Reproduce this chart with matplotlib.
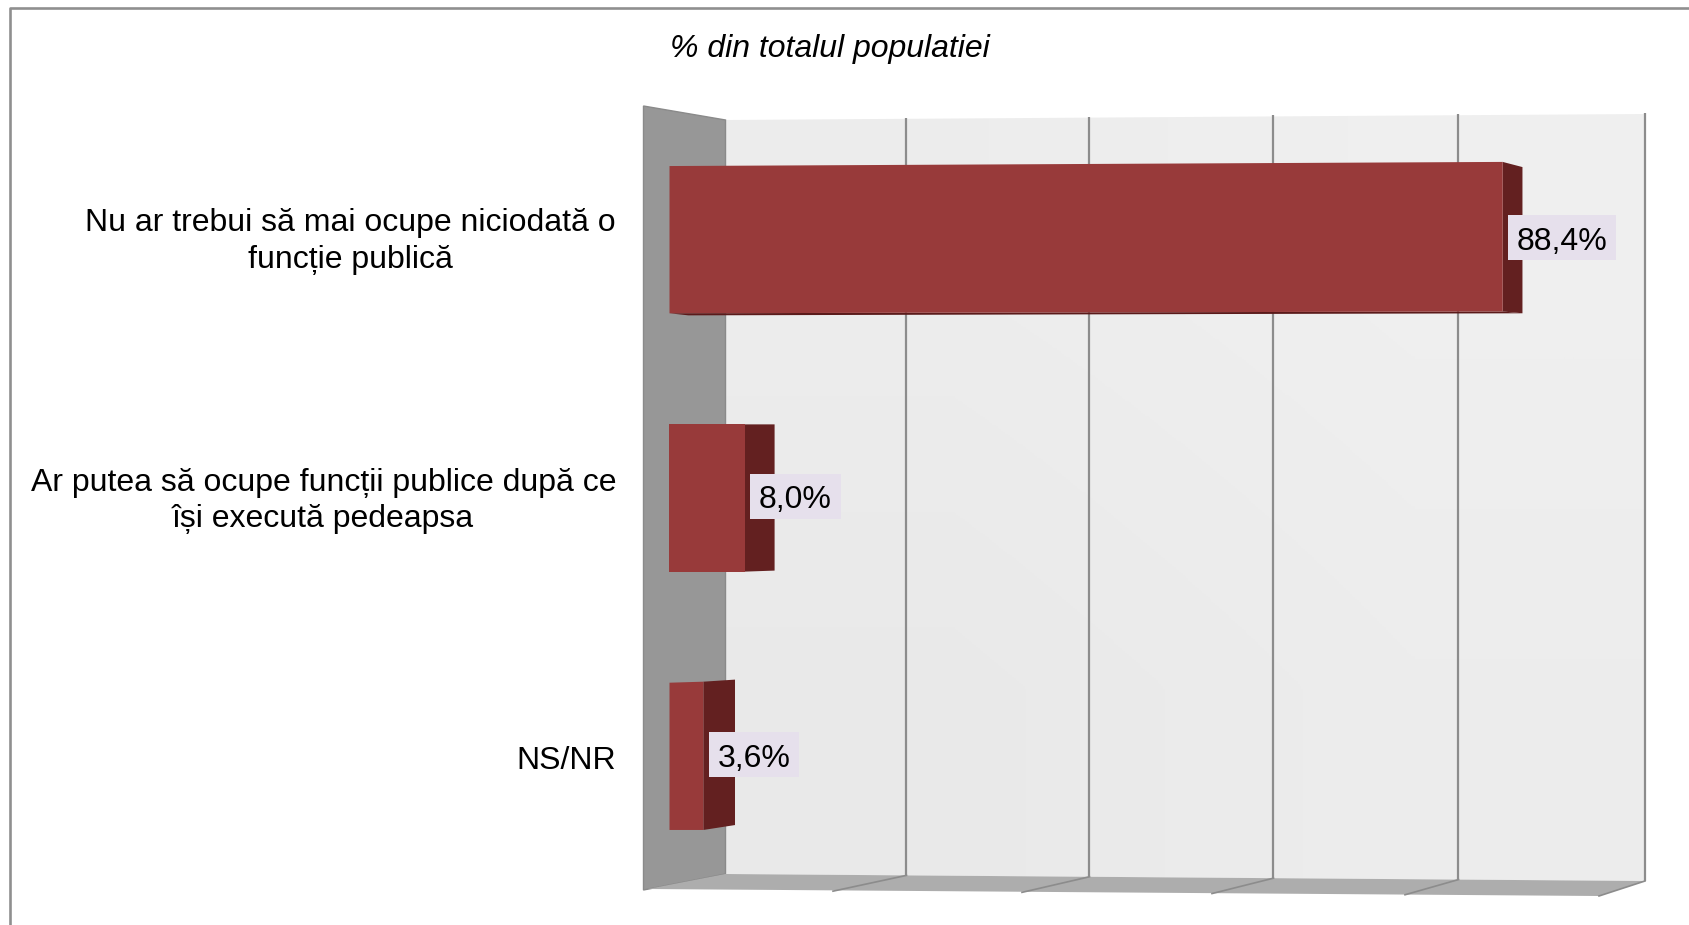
import numpy as np
import matplotlib
matplotlib.use('Agg')
import matplotlib.pyplot as plt
from matplotlib.patches import Polygon
from matplotlib.path import Path
from matplotlib.transforms import ScaledTranslation

plt.rcParams['font.family'] = ['Liberation Sans', 'DejaVu Sans']

categories = ['Nu ar trebui să mai ocupe niciodată o\nfuncție publică',
              'Ar putea să ocupe funcții publice după ce\nîși execută pedeapsa',
              'NS/NR']
values = [88.4, 8.0, 3.6]
value_labels = ['88,4%', '8,0%', '3,6%']
grid_values = [0, 20, 40, 60, 80, 100]
title = '% din totalul populatiei'

W, H = 1690, 925
RED = '#983A3A'
DARK = '#632020'
GRID = '#8C8C8C'
FONT = 23


def label_box(x0, y0, width, height, mutation_size):
    # fixed height box sitting a bit higher than the text extents
    pad = 0.27 * mutation_size
    mid = y0 + height / 2 + 4
    left, right = x0 - pad, x0 + width + pad
    low, high = mid - 22.5, mid + 22.5
    return Path([(left, low), (right, low), (right, high), (left, high), (left, low)], closed=True)


fig = plt.figure(figsize=(W / 100, H / 100), dpi=100, facecolor='white')

# the 3d box behind the bars, in pixel coordinates
bg = fig.add_axes([0, 0, 1, 1], zorder=0)
bg.set_xlim(0, W)
bg.set_ylim(H, 0)
bg.axis('off')

# outer frame, open on the right and at the bottom
bg.plot([10.5, 10.5, W], [H, 8, 8], color='#8F8F8F', lw=1.9)

back = Polygon([(725.5, 120), (1645, 114), (1645, 881), (725.5, 874)],
               closed=True, fc='none', ec='none')
bg.add_patch(back)
grad = np.array([[0.925, 0.935], [0.912, 0.925]])
im = bg.imshow(grad, extent=(725.5, 1645, 881, 114), cmap='gray', vmin=0, vmax=1,
               interpolation='bilinear', aspect='auto', zorder=1)
im.set_clip_path(back)
bg.set_xlim(0, W)
bg.set_ylim(H, 0)

bg.add_patch(Polygon([(643.5, 106), (725.5, 120), (725.5, 874), (643.5, 890)],
                     closed=True, fc='#979797', ec='#8A8A8A', lw=1, zorder=2))
bg.add_patch(Polygon([(648, 889), (725.5, 874), (1645, 881), (1599, 896)],
                     closed=True, fc='#ADADAD', ec='none', zorder=2))

# gridlines on the back wall and their ticks across the floor
back_x = [725.5, 906.5, 1089.5, 1273.5, 1458.5, 1645]
front_x = [648, 833, 1022, 1212, 1405, 1599]
for v, bx, fx in zip(grid_values, back_x, front_x):
    if v == 0:
        continue
    t = (bx - 725.5) / (1645 - 725.5)
    top = 120 - 6 * t - 1
    bottom = 874 + 7 * t
    bg.plot([bx, bx], [top, bottom], color=GRID, lw=1.6, zorder=3, solid_capstyle='butt')
    bg.plot([bx, fx], [bottom, 890 + 6 * (fx - 648) / 951], color=GRID, lw=1.2, zorder=3)

# bars, on a real value axis lined up with the front of the box
x0, x100 = 669.5, 1612
y_top, y_bottom = 110.5, 885.5
ax = fig.add_axes([x0 / W, 1 - y_bottom / H, (x100 - x0) / W, (y_bottom - y_top) / H], zorder=1)
ax.patch.set_alpha(0)
ax.set_xlim(0, 100)
ax.set_ylim(2.5, -0.5)
for s in ax.spines.values():
    s.set_visible(False)
ax.set_xticks([])
ax.set_yticks(range(len(categories)))
ax.set_yticklabels(categories, fontsize=FONT, color='black', multialignment='center',
                   linespacing=1.28)
ax.tick_params(axis='y', length=0, pad=38.5)

# nudge the tick labels, in pixels upward
label_shift = [5, 3.5, -1]
for lab, dy in zip(ax.get_yticklabels(), label_shift):
    lab.set_transform(lab.get_transform() + ScaledTranslation(0, dy / 100, fig.dpi_scale_trans))

# 3d look of each bar, front face skew and side face depth
half = 0.285
depth = [2.1, 3.15, 3.35]
front_skew = [(0.0, -0.016, 0.0, -0.007), (0, 0, 0, 0), (0.0, -0.004, 0.0, 0.0)]
side_skew = [(0.004, 0.0), (0.0, -0.004), (-0.012, -0.019)]

for i, v in enumerate(values):
    tl, tr, bl, br = front_skew[i]
    st, sb = side_skew[i]
    d = depth[i]
    ax.fill([v, v + d, v + d, v],
            [i - half + tr, i - half + st, i + half + sb, i + half + br],
            color=DARK, lw=0, zorder=2)
    if i == 0:
        # underside just visible on the long bar
        ax.fill([2, v + d, v, 0], [i + half + 0.008, i + half + sb, i + half + br, i + half],
                color='#5A1A1A', lw=0, zorder=1)
    ax.fill([0, v, v, 0],
            [i - half + tl, i - half + tr, i + half + br, i + half + bl],
            color=RED, lw=0, zorder=3)
    ax.annotate(value_labels[i], xy=(v, i), xytext=(10.2, -1.6), textcoords='offset points',
                ha='left', va='center', fontsize=FONT, color='black', zorder=5,
                bbox=dict(boxstyle=label_box, fc='#E6E0EC', ec='none'))

fig.text(830 / W, 1 - 48.5 / H, title, ha='center', va='center', fontsize=FONT,
         style='italic', color='black')

fig.savefig('out.png', dpi=100, facecolor='white')
